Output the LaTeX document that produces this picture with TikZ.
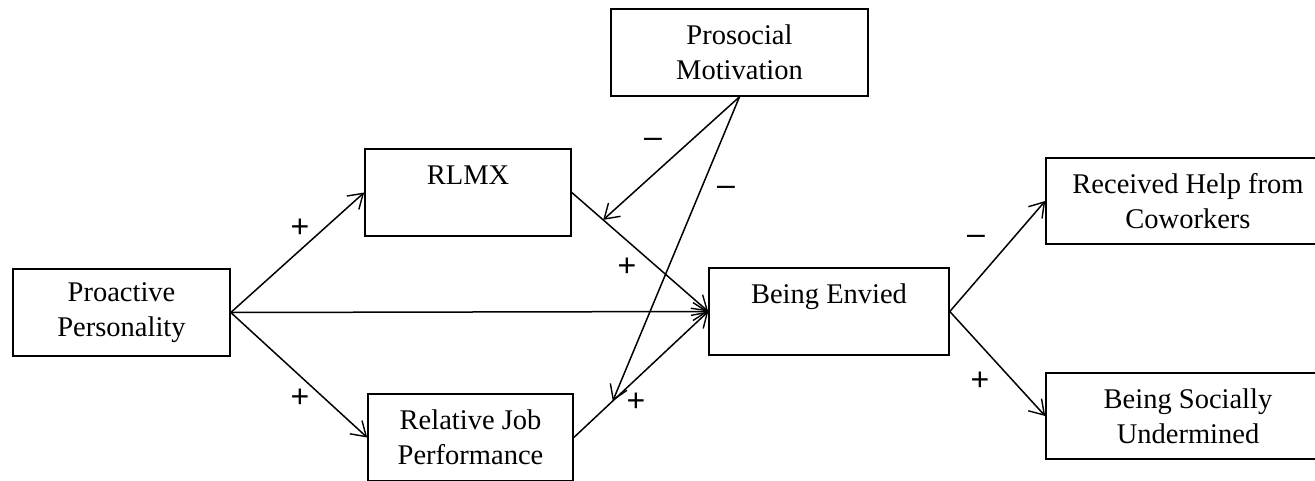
\documentclass[tikz,border=0pt]{standalone}
\usepackage{fontspec}
\setmainfont{Liberation Serif}
\newfontfamily\signfont{Liberation Sans}
\usetikzlibrary{arrows.meta}
\begin{document}
\begin{tikzpicture}[x=1pt,y=-1pt,
  box/.style={draw,line width=1.6pt,inner sep=0pt,align=center,anchor=center,
    font=\fontsize{28.5}{35}\selectfont},
  arr/.style={line width=1.5pt,-{Straight Barb[length=14pt,width=18pt,line width=1.4pt]}},
  sign/.style={font=\signfont\fontsize{32}{32}\selectfont,inner sep=0pt}]
\clip (0,0) rectangle (1315,480);
\useasboundingbox (0,0) rectangle (1315,480);
\node[box,minimum width=217pt,minimum height=87pt] (pro) at (121.5,312.5) {Proactive\\Personality};
\node[box,minimum width=206pt,minimum height=87pt] (rlmx) at (468,192.5) {RLMX\\\mbox{}};
\node[box,minimum width=205pt,minimum height=87pt] (rjp) at (470.5,437.5) {Relative Job\\Performance};
\node[box,minimum width=257pt,minimum height=87pt] (pm) at (739.5,52.5) {Prosocial\\Motivation};
\node[box,minimum width=240pt,minimum height=87pt] (be) at (829,311.5) {Being Envied\\\mbox{}};
\node[box,minimum width=284pt,minimum height=86pt] (rh) at (1188,201) {Received Help from\\Coworkers};
\node[box,minimum width=284pt,minimum height=86pt] (bsu) at (1188,416) {Being Socially\\Undermined};
\draw[arr] (pro.east) -- (rlmx.west);
\draw[arr] (pro.east) -- (rjp.west);
\draw[arr] (pro.east) -- (be.west);
\draw[arr] (rlmx.east) -- coordinate[pos=0.23] (m1) (be.west);
\draw[arr] (rjp.east) -- coordinate[pos=0.29] (m2) (be.west);
\draw[arr] (pm.south) -- (m1);
\draw[arr] (pm.south) -- (m2);
\draw[arr] (be.east) -- (rh.west);
\draw[arr] (be.east) -- (bsu.west);
\node[sign] (s1) at (300,228) {+};
\node[sign] (s2) at (300,398) {+};
\node[sign] (s3) at (653,143) {\textendash};
\node[sign] (s4) at (726,191) {\textendash};
\node[sign] (s5) at (627,267) {+};
\node[sign] (s6) at (636,402) {+};
\node[sign] (s7) at (976,240) {\textendash};
\node[sign] (s8) at (980,381) {+};
\end{tikzpicture}
\end{document}
